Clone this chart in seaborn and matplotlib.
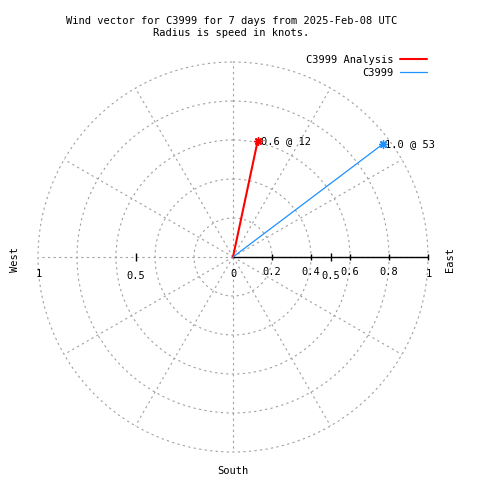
import numpy as np
import pandas as pd
import matplotlib
matplotlib.use("Agg")
import matplotlib.pyplot as plt
import seaborn as sns

# wind vectors: speed (knots) and direction (deg, clockwise from north)
series_names = ["C3999 Analysis", "C3999"]
speeds = [0.61, 0.96]
directions = [12, 53]
series_colors = ["#ff0000", "#1e90ff"]
series_widths = [1.5, 0.9]

rtick_values = [0.2, 0.4, 0.6, 0.8, 1.0]
rtick_labels = ["0.2", "0.4", "0.6", "0.8"]
xtick_values = [-1.0, -0.5, 0.0, 0.5, 1.0]
xtick_labels = ["1", "0.5", "0", "0.5", "1"]
theta_grid = list(range(0, 360, 30))

title = "Wind vector for C3999 for 7 days from 2025-Feb-08 UTC\nRadius is speed in knots."

sns.set_style("white")
plt.rcParams["font.family"] = ["DejaVu Sans Mono"]
plt.rcParams["text.color"] = "black"
FS = 7.5
GRID = "#a0a0a0"

W = H = 480
fig = plt.figure(figsize=(4.8, 4.8), dpi=100)
cx, cy, R = 233, 257, 195
ax = fig.add_axes([(cx - R) / W, (H - cy - R) / H, 2 * R / W, 2 * R / H], projection="polar")
ax.set_theta_zero_location("N")
ax.set_theta_direction(-1)
ax.set_ylim(0, 1.0)
ax.spines["polar"].set_visible(False)
ax.set_facecolor("none")
ax.set_rgrids(rtick_values, labels=[""] * len(rtick_values))
ax.set_thetagrids(theta_grid, labels=[""] * len(theta_grid))
ax.grid(True, color=GRID, linestyle=(0, (2, 3)), linewidth=0.8)
for gl in ax.yaxis.get_gridlines():
    gl.set_clip_on(False)

# solid radial axis to the east with tick marks
east = np.pi / 2
west = 3 * np.pi / 2
ax.plot([east, east], [0, 1], color="black", lw=1.0, zorder=3, clip_on=False)
ax.plot([east] * len(rtick_values), rtick_values, ls="none", marker="|",
        color="black", ms=5, mew=1.0, zorder=3, clip_on=False)
ax.plot([east, west], [0.5, 0.5], ls="none", marker="|",
        color="black", ms=6, mew=1.0, zorder=3, clip_on=False)

# r tick labels along the east axis
for v, lab in zip(rtick_values, rtick_labels):
    ax.annotate(lab, (east, v), xytext=(0, -10.5), textcoords="offset points",
                ha="center", va="center", fontsize=FS)
# x tick labels (signed axis through the centre)
for v, lab in zip(xtick_values, xtick_labels):
    th = east if v >= 0 else west
    dy = -13.5 if abs(v) == 0.5 else -12
    ax.annotate(lab, (th, abs(v)), xytext=(0.5, dy), textcoords="offset points",
                ha="center", va="center", fontsize=FS)

# vectors
rows = []
for name, s, d in zip(series_names, speeds, directions):
    rows.append({"name": name, "theta": np.deg2rad(d), "r": 0.0})
    rows.append({"name": name, "theta": np.deg2rad(d), "r": s})
df = pd.DataFrame(rows)

handles = []
for name, s, d, c, w in zip(series_names, speeds, directions, series_colors, series_widths):
    sub = df[df["name"] == name]
    sns.lineplot(data=sub, x="theta", y="r", sort=False, estimator=None, errorbar=None,
                 color=c, lw=w, ax=ax, legend=False, zorder=4)
    ax.plot([np.deg2rad(d)], [s], ls="none", marker=(8, 2, 0), ms=6, mew=1.0,
            color=c, zorder=5, clip_on=False)
    ax.annotate(f"{s:.1f} @ {d}", (np.deg2rad(d), s), xytext=(2, 0),
                textcoords="offset points", ha="left", va="center", fontsize=FS)
    handles.append(plt.Line2D([], [], color=c, lw=w))
ax.set_xlabel("")
ax.set_ylabel("")

fig.legend(handles, series_names, loc="upper right",
           bbox_to_anchor=(427 / W, 1 - 55 / H), frameon=False, markerfirst=False,
           fontsize=FS, handlelength=2.6, handletextpad=0.6, labelspacing=0.25,
           borderpad=0, borderaxespad=0)

fig.text(231.5 / W, 1 - 26.5 / H, title, ha="center", va="center", fontsize=FS,
         linespacing=1.25)
fig.text(15 / W, 1 - 259 / H, "West", rotation=90, ha="center", va="center", fontsize=FS)
fig.text(450 / W, 1 - 259 / H, "East", rotation=90, ha="center", va="center", fontsize=FS)
fig.text(233 / W, 1 - 471 / H, "South", ha="center", va="center", fontsize=FS)

fig.savefig("out.png", dpi=100)
